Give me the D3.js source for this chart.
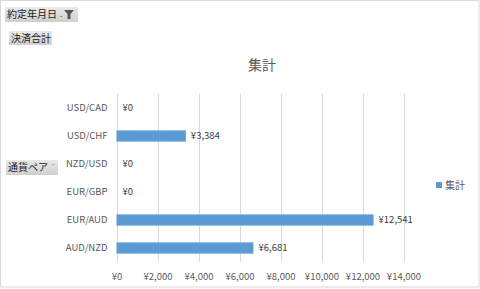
<!DOCTYPE html>
<html><head><meta charset="utf-8">
<script src="https://cdn.jsdelivr.net/npm/d3@7"></script>
<style>
html,body{margin:0;padding:0;background:#fff;}
svg{display:block;font-family:"Noto Sans CJK JP","Noto Sans",sans-serif;}
</style></head>
<body>
<script>
const categories = ["USD/CAD","USD/CHF","NZD/USD","EUR/GBP","EUR/AUD","AUD/NZD"];
const values = [0, 3384, 0, 0, 12541, 6681];
const xTicks = [0,2000,4000,6000,8000,10000,12000,14000];
const title = "集計";
const seriesName = "集計";

const W = 480, H = 289;
const svg = d3.select("body").append("svg").attr("width", W).attr("height", H);
const defs = svg.append("defs");
const g1 = defs.append("linearGradient").attr("id","btn").attr("x1",0).attr("y1",0).attr("x2",0).attr("y2",1);
g1.append("stop").attr("offset","0%").attr("stop-color","#e9e9e9");
g1.append("stop").attr("offset","100%").attr("stop-color","#cfcfcf");

svg.append("rect").attr("x",0.5).attr("y",0.5).attr("width",W-1.5).attr("height",H-2.5)
  .attr("fill","#fff").attr("stroke","#d9d9d9");

const fmt = v => "¥" + d3.format(",")(v);
const x = d3.scaleLinear().domain([0,14000]).range([116.5,403.5]);
const y = d3.scaleBand().domain(categories).range([94,262]).paddingInner(0.6).paddingOuter(0.3);

// gridlines
svg.append("g").selectAll("line").data(xTicks).join("line")
  .attr("x1",d=>Math.round(x(d))+0.5).attr("x2",d=>Math.round(x(d))+0.5)
  .attr("y1",94).attr("y2",262).attr("stroke","#d9d9d9").attr("stroke-width",1);

// bars
svg.append("g").selectAll("rect").data(values).join("rect")
  .attr("x",x(0)).attr("y",(d,i)=>y(categories[i]))
  .attr("width",d=>x(d)-x(0)).attr("height",y.bandwidth())
  .attr("fill","#5b9bd5");

// data labels
svg.append("g").selectAll("text").data(values).join("text")
  .attr("x",d=>x(d)+ (d>0?5:6)).attr("y",(d,i)=>y(categories[i])+y.bandwidth()/2)
  .attr("dy","0.35em").attr("font-size",9.5).attr("fill","#404040").text(d=>fmt(d));

// y axis labels
const yAxis = d3.axisLeft(y).tickSize(0).tickPadding(9);
const ya = svg.append("g").attr("transform","translate(116.5,0)").call(yAxis);
ya.select(".domain").remove();
ya.selectAll("text").attr("font-size",9.5).attr("fill","#595959").attr("font-family","\"Noto Sans CJK JP\",sans-serif");

// x axis
const xAxis = d3.axisBottom(x).tickValues(xTicks).tickFormat(fmt).tickSize(0).tickPadding(11);
const xa = svg.append("g").attr("transform","translate(0,262)").call(xAxis);
xa.select(".domain").remove();
xa.selectAll("text").attr("font-size",9.5).attr("fill","#595959").attr("font-family","\"Noto Sans CJK JP\",sans-serif");

// title
svg.append("text").attr("x",262).attr("y",70).attr("text-anchor","middle")
  .attr("font-size",14).attr("fill","#595959").text(title);

// legend
svg.append("rect").attr("x",436).attr("y",182).attr("width",6).attr("height",6).attr("fill","#5b9bd5");
svg.append("text").attr("x",445).attr("y",185).attr("dy","0.35em").attr("font-size",10).attr("fill","#595959").text(seriesName);

// pivot buttons
function button(x0,y0,w,h,label,extra){
  const g = svg.append("g");
  g.append("rect").attr("x",x0).attr("y",y0).attr("width",w).attr("height",h).attr("fill","url(#btn)");
  g.append("text").attr("x",x0+2).attr("y",y0+h/2).attr("dy","0.36em").attr("font-size",10).attr("fill","#1a1a1a").text(label);
  return g;
}
const b1 = button(5,7,73,15,"約定年月日");
b1.append("text").attr("x",60).attr("y",17).attr("font-size",9).attr("fill","#444").text(".");
b1.append("path").attr("d","M64,10 L74,10 L70.5,14 L70.5,19 L67.5,19 L67.5,14 Z").attr("fill","#555");
button(9,31,43,14,"決済合計");
const b3 = button(6,160,52,15,"通貨ペア");
b3.append("text").attr("x",51).attr("y",167).attr("font-size",8).attr("fill","#666").text("·");
</script>
</body></html>
